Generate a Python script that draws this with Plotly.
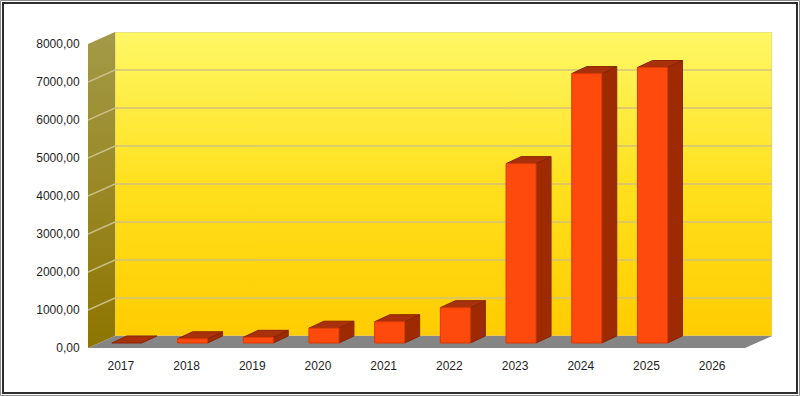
import plotly.graph_objects as go

# ---- data ----
years = ["2017", "2018", "2019", "2020", "2021", "2022", "2023", "2024", "2025", "2026"]
values = [0, 110, 150, 390, 560, 930, 4720, 7090, 7250, None]
y_ticks = [0, 1000, 2000, 3000, 4000, 5000, 6000, 7000, 8000]

# ---- geometry (in data units) ----
W_PX, H_PX = 800, 396
ML, MR, MT, MB = 88, 28, 32, 48
plot_w = W_PX - ML - MR
plot_h = H_PX - MT - MB
n = len(years)
px_per_cat = 657 / n
DX = 27 / px_per_cat          # wall depth in category units
YMAX = 8000
DY = 12 / 0.038               # wall depth in value units
y_top = YMAX + DY
px_per_val = plot_h / y_top

FX = 6 / px_per_cat           # bar front offset
BW = 30 / px_per_cat          # bar width
B0 = 5 / px_per_val           # bar base (depth)
BDX = 15 / px_per_cat         # bar depth x
BDY = 7 / px_per_val          # bar depth y

x0, x1 = -0.5, n - 0.5

fig = go.Figure()

def poly(xs, ys, color=None, grad=None, line=None):
    kw = dict(x=xs + [xs[0]], y=ys + [ys[0]], mode="lines", fill="toself",
              hoverinfo="skip", showlegend=False,
              line=line if line else dict(width=0, color="rgba(0,0,0,0)"))
    if grad:
        kw["fillgradient"] = dict(type="vertical", colorscale=grad)
        kw["fillcolor"] = grad[0][1]
    else:
        kw["fillcolor"] = color
    fig.add_trace(go.Scatter(**kw))

# back wall
poly([x0 + DX, x1 + DX, x1 + DX, x0 + DX], [DY, DY, YMAX + DY, YMAX + DY],
     grad=[[0, "#FFCC00"], [0.5, "#FFE01E"], [1, "#FFF866"]],
     line=dict(width=1, color="#D6CC9A"))
# side wall
poly([x0, x0 + DX, x0 + DX, x0], [0, DY, YMAX + DY, YMAX],
     grad=[[0, "#8E7500"], [1, "#A39A48"]])
# floor
poly([x0, x1, x1 + DX, x0 + DX], [0, 0, DY, DY], color="#858585")

# grid lines
gx, gy, sx, sy = [], [], [], []
for t in y_ticks[1:-1]:
    gx += [x0 + DX, x1 + DX, None]
    gy += [t + DY, t + DY, None]
    sx += [x0, x0 + DX, None]
    sy += [t, t + DY, None]
fig.add_trace(go.Scatter(x=gx, y=gy, mode="lines", line=dict(color="#D2C17E", width=1.6),
                         hoverinfo="skip", showlegend=False))
fig.add_trace(go.Scatter(x=sx, y=sy, mode="lines", line=dict(color="#C9BE86", width=1.4),
                         hoverinfo="skip", showlegend=False))

# bars
fx, fy, sdx, sdy, tx, ty = [], [], [], [], [], []
for i, v in enumerate(values):
    if v is None:
        continue
    c = i + FX
    l, r = c - BW / 2, c + BW / 2
    b, t = B0, B0 + v
    if v > 0:
        fx += [l, r, r, l, l, None]
        fy += [b, b, t, t, b, None]
        sdx += [r, r + BDX, r + BDX, r, r, None]
        sdy += [b, b + BDY, t + BDY, t, b, None]
    tx += [l, r, r + BDX, l + BDX, l, None]
    ty += [t, t, t + BDY, t + BDY, t, None]

for xs, ys, col, lc in [(sdx, sdy, "#9E2A02", "#8A2400"),
                         (tx, ty, "#A8300A", "#8A2400"),
                         (fx, fy, "#FF4A0E", "#D93A06")]:
    fig.add_trace(go.Scatter(x=xs, y=ys, mode="lines", fill="toself", fillcolor=col,
                             line=dict(color=lc, width=1), hoverinfo="skip",
                             showlegend=False))

# frame
def px2paper_x(p):
    return (p - ML) / plot_w

def px2paper_y(p):
    return (H_PX - MB - p) / plot_h

fig.add_shape(type="rect", xref="paper", yref="paper",
              x0=px2paper_x(0.5), x1=px2paper_x(799.5),
              y0=px2paper_y(395.5), y1=px2paper_y(0.5),
              line=dict(color="#8C8C8C", width=1))
fig.add_shape(type="rect", xref="paper", yref="paper",
              x0=px2paper_x(3), x1=px2paper_x(797),
              y0=px2paper_y(393), y1=px2paper_y(3),
              line=dict(color="#2E2E2E", width=2))

fig.update_layout(
    width=W_PX, height=H_PX,
    margin=dict(l=ML, r=MR, t=MT, b=MB, pad=0),
    paper_bgcolor="white", plot_bgcolor="white",
    separators=",.",
    font=dict(family="Liberation Sans, Arial, sans-serif", size=12, color="#1E1E1E"),
    xaxis=dict(range=[x0, x1 + DX], tickvals=list(range(n)), ticktext=years,
               showgrid=False, zeroline=False, showline=False, automargin=False,
               ticks="outside", ticklen=7, tickcolor="rgba(0,0,0,0)", fixedrange=True),
    yaxis=dict(range=[0, y_top], tickvals=y_ticks, tickformat=".2f",
               showgrid=False, zeroline=False, showline=False, automargin=False,
               ticks="outside", ticklen=5, tickcolor="rgba(0,0,0,0)", fixedrange=True),
)

fig.write_html("out.html", config={"displayModeBar": False},
               post_script="document.body.style.margin='0';document.body.style.overflow='hidden';")
